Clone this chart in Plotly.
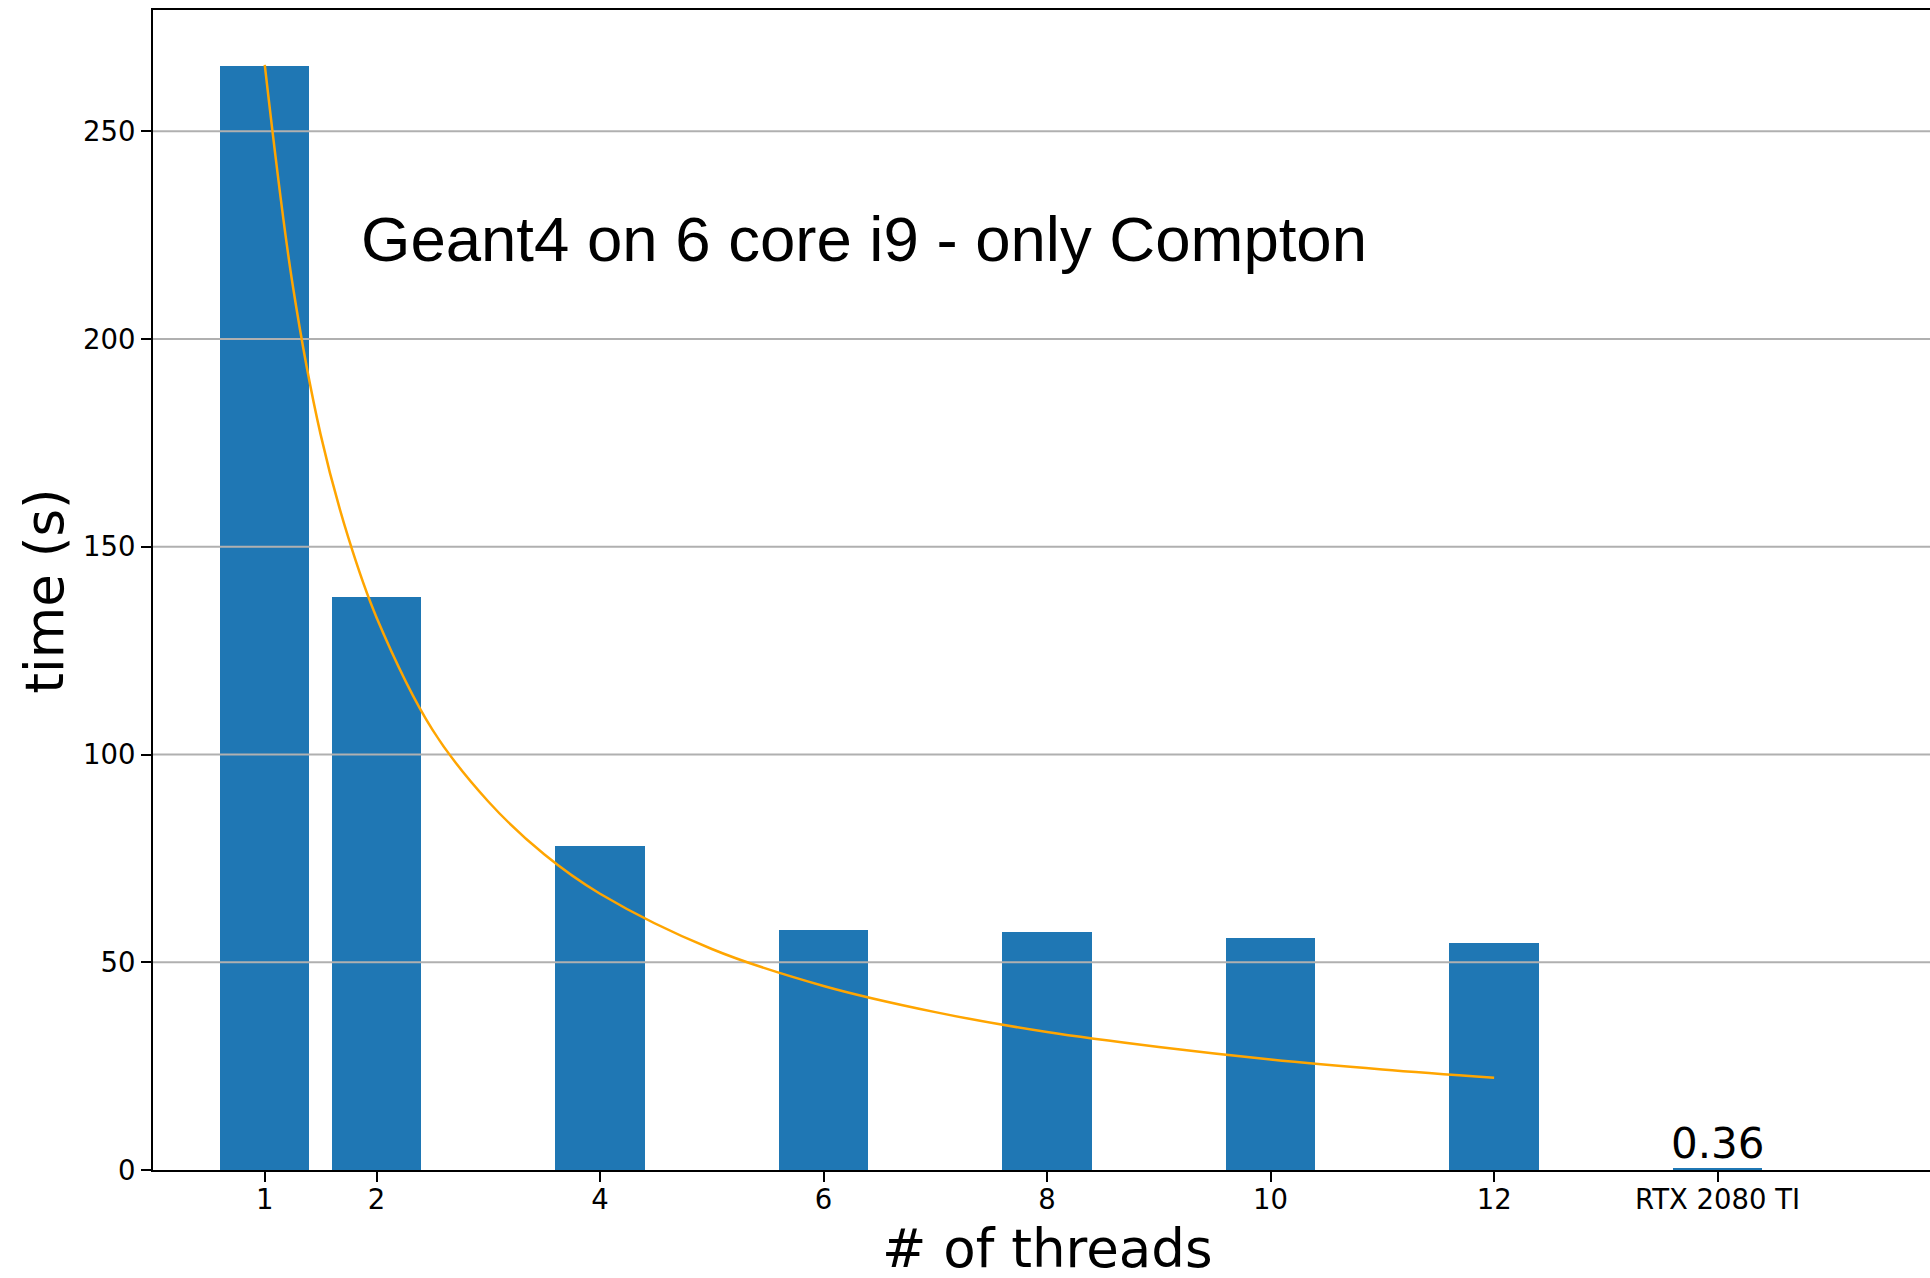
import plotly.graph_objects as go

# ---- data ----
threads = [1, 2, 4, 6, 8, 10, 12, 14]
times = [265.8, 137.9, 78.1, 57.8, 57.2, 55.9, 54.7, 0.36]
tick_labels = ["1", "2", "4", "6", "8", "10", "12", "RTX 2080 TI"]

# ideal-scaling curve, values
curve_x = [1, 1.25, 1.5, 1.75, 2, 2.5, 3, 3.5, 4, 5, 6, 7, 8, 9, 10, 11, 12]
curve_y = [266, 213, 177, 152, 133, 106, 88.7, 76, 66.5, 53.2, 44.3, 38, 33.2, 29.6, 26.6, 24.2, 22.2]

grid_vals = [50, 100, 150, 200, 250]
y_ticks = [0, 50, 100, 150, 200, 250]

title_text = "Geant4 on 6 core i9 - only Compton"
gpu_label = "0.36"

X_RANGE = [0, 15.9]
Y_RANGE = [0, 279.2]

fig = go.Figure()

fig.add_trace(go.Bar(
    x=threads, y=times, width=0.8,
    marker=dict(color="#1f77b4", line=dict(width=0)),
    hoverinfo="skip", showlegend=False,
))

# horizontal grid drawn above the bars but below the curve
gx, gy = [], []
for v in grid_vals:
    gx += [X_RANGE[0], X_RANGE[1], None]
    gy += [v, v, None]
fig.add_trace(go.Scatter(
    x=gx, y=gy, mode="lines",
    line=dict(color="#b0b0b0", width=2),
    hoverinfo="skip", showlegend=False,
))

fig.add_trace(go.Scatter(
    x=curve_x, y=curve_y, mode="lines",
    line=dict(color="#FFA500", width=2.5, shape="spline"),
    hoverinfo="skip", showlegend=False,
))

tick_font = dict(family="DejaVu Sans", size=27.5, color="black")

fig.update_layout(
    width=1930, height=1278,
    margin=dict(l=153, r=0, t=10, b=108),
    paper_bgcolor="white", plot_bgcolor="white",
    bargap=0,
    xaxis=dict(
        range=X_RANGE, tickmode="array", tickvals=threads, ticktext=tick_labels,
        showgrid=False, zeroline=False,
        showline=True, linecolor="black", linewidth=2, mirror=True,
        ticks="outside", ticklen=10, tickwidth=2, tickcolor="black",
        tickfont=tick_font, ticklabelstandoff=-6,
    ),
    yaxis=dict(
        range=Y_RANGE, tickmode="array", tickvals=y_ticks,
        showgrid=False, zeroline=False,
        showline=True, linecolor="black", linewidth=2,
        ticks="outside", ticklen=10, tickwidth=2, tickcolor="black",
        tickfont=tick_font,
    ),
    annotations=[
        dict(text=title_text, x=1.845, y=224, xref="x", yref="y",
             xanchor="left", yanchor="middle", showarrow=False,
             font=dict(family="Liberation Sans", size=63.5, color="black")),
        dict(text=gpu_label, x=14, y=0.36, xref="x", yref="y",
             xanchor="center", yanchor="bottom", showarrow=False, yshift=-1,
             font=dict(family="DejaVu Sans", size=42, color="black")),
        dict(text="# of threads", x=8, y=0, xref="x", yref="paper",
             xanchor="center", yanchor="middle", showarrow=False, yshift=-78,
             font=dict(family="DejaVu Sans", size=53, color="black")),
        dict(text="time (s)", x=0, y=139.4, xref="paper", yref="y",
             xanchor="center", yanchor="middle", showarrow=False, xshift=-108,
             textangle=-90,
             font=dict(family="DejaVu Sans", size=53, color="black")),
    ],
)

fig.write_html("out.html")
